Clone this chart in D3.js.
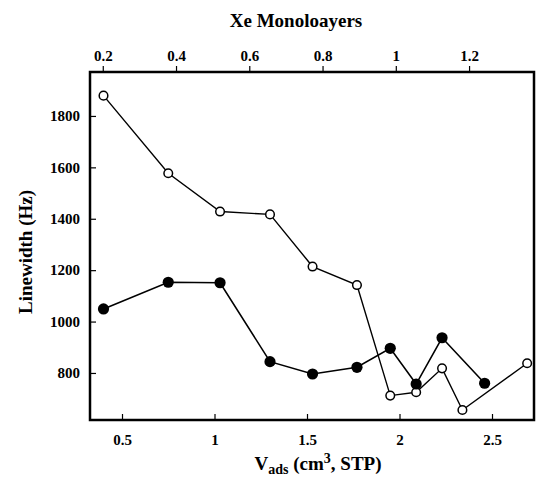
<!DOCTYPE html>
<html>
<head>
<meta charset="utf-8">
<script src="https://cdn.jsdelivr.net/npm/d3@7"></script>
<style>
  body { margin: 0; background: #fff; }
  svg { display: block; font-family: "Liberation Serif", "Times New Roman", serif; font-weight: bold; }
</style>
</head>
<body>
<svg width="536" height="479"></svg>
<script>
// V_ads (cm3, STP) for each measurement
const vadsOpen = [0.40, 0.75, 1.03, 1.30, 1.53, 1.77, 1.95, 2.09, 2.23, 2.34, 2.69];
const widthOpen = [1879, 1577, 1428, 1417, 1214, 1142, 712, 725, 818, 656, 838];

const vadsFilled = [0.40, 0.75, 1.03, 1.30, 1.53, 1.77, 1.95, 2.09, 2.23, 2.46];
const widthFilled = [1049, 1153, 1151, 844, 796, 822, 896, 757, 937, 760];

const bottomTicks = [0.5, 1, 1.5, 2, 2.5];
const topTicks = [0.2, 0.4, 0.6, 0.8, 1, 1.2];
const yTicks = [800, 1000, 1200, 1400, 1600, 1800];

const cm3PerMonolayer = 1.98;

(function (d3) {
  'use strict';

  const svg = d3.select('svg');
  const width = +svg.attr('width');
  const height = +svg.attr('height');
  const margin = { top: 72, right: 2, bottom: 59, left: 90 };
  const innerWidth = width - margin.left - margin.right;
  const innerHeight = height - margin.top - margin.bottom;

  const xScale = d3.scaleLinear()
    .domain([0.327, 2.727])
    .range([0, innerWidth]);

  // top axis is the same thing counted in monolayers
  const xTop = d3.scaleLinear()
    .domain(xScale.domain().map(v => v / cm3PerMonolayer))
    .range([0, innerWidth]);

  const yScale = d3.scaleLinear()
    .domain([617, 1971])
    .range([innerHeight, 0]);

  const g = svg.append('g')
    .attr('transform', `translate(${margin.left},${margin.top})`);

  const styleAxis = sel => {
    sel.select('.domain').remove();
    sel.selectAll('.tick line').attr('stroke', '#000').attr('stroke-width', 1.2);
    sel.selectAll('.tick text')
      .attr('fill', '#000')
      .attr('font-size', 15)
      .attr('font-family', '"Liberation Serif", serif')
      .attr('font-weight', 'bold');
  };

  g.append('g')
    .attr('transform', `translate(0,${innerHeight})`)
    .call(d3.axisBottom(xScale)
      .tickValues(bottomTicks)
      .tickFormat(d3.format('~g'))
      .tickSizeInner(-6)
      .tickSizeOuter(0)
      .tickPadding(14))
    .call(styleAxis);

  g.append('g')
    .call(d3.axisTop(xTop)
      .tickValues(topTicks)
      .tickFormat(d3.format('~g'))
      .tickSizeInner(6)
      .tickSizeOuter(0)
      .tickPadding(5))
    .call(styleAxis);

  g.append('g')
    .call(d3.axisLeft(yScale)
      .tickValues(yTicks)
      .tickFormat(d3.format('d'))
      .tickSizeInner(-6)
      .tickSizeOuter(0)
      .tickPadding(10))
    .call(styleAxis);

  // frame
  g.append('rect')
    .attr('width', innerWidth)
    .attr('height', innerHeight)
    .attr('fill', 'none')
    .attr('stroke', '#000')
    .attr('stroke-width', 2.5);

  const line = d3.line()
    .x(d => xScale(d[0]))
    .y(d => yScale(d[1]));

  const openPts = d3.zip(vadsOpen, widthOpen);
  const filledPts = d3.zip(vadsFilled, widthFilled);

  g.append('path')
    .datum(openPts)
    .attr('d', line)
    .attr('fill', 'none')
    .attr('stroke', '#000')
    .attr('stroke-width', 1.4);

  g.append('path')
    .datum(filledPts)
    .attr('d', line)
    .attr('fill', 'none')
    .attr('stroke', '#000')
    .attr('stroke-width', 1.6);

  g.selectAll('.open').data(openPts)
    .enter().append('circle')
      .attr('class', 'open')
      .attr('cx', d => xScale(d[0]))
      .attr('cy', d => yScale(d[1]))
      .attr('r', 4.3)
      .attr('fill', '#fff')
      .attr('stroke', '#000')
      .attr('stroke-width', 1.5);

  g.selectAll('.filled').data(filledPts)
    .enter().append('circle')
      .attr('class', 'filled')
      .attr('cx', d => xScale(d[0]))
      .attr('cy', d => yScale(d[1]))
      .attr('r', 5.6)
      .attr('fill', '#000');

  // titles
  svg.append('text')
    .attr('x', 296)
    .attr('y', 27)
    .attr('text-anchor', 'middle')
    .attr('font-size', 19)
    .text('Xe Monoloayers');

  svg.append('text')
    .attr('transform', `translate(32,252) rotate(-90)`)
    .attr('text-anchor', 'middle')
    .attr('font-size', 19)
    .text('Linewidth (Hz)');

  const xl = svg.append('text')
    .attr('x', 318)
    .attr('y', 470)
    .attr('text-anchor', 'middle')
    .attr('font-size', 19);
  xl.append('tspan').text('V');
  xl.append('tspan').attr('dy', 4).attr('font-size', 14).text('ads');
  xl.append('tspan').attr('dy', -4).text(' (cm');
  xl.append('tspan').attr('dy', -7).attr('font-size', 14).text('3');
  xl.append('tspan').attr('dy', 7).text(', STP)');

}(d3));
</script>
</body>
</html>
